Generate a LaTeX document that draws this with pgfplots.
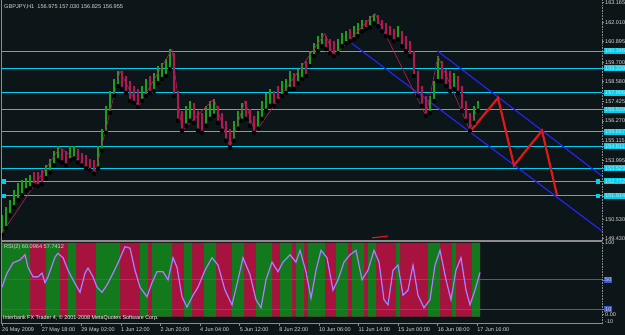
\documentclass[border=0pt]{standalone}
\usepackage{pgfplots}
\pgfplotsset{compat=1.18}
\usepackage{pgfplotstable}
\usepackage{fontspec}
\setmainfont{Liberation Sans}
\definecolor{bg}{HTML}{0C1518}
\definecolor{cyanl}{HTML}{00D0F0}
\definecolor{chan}{HTML}{2424F0}
\definecolor{proj}{HTML}{E01818}
\definecolor{upc}{HTML}{1CA01C}
\definecolor{dnc}{HTML}{B0184E}
\definecolor{zz}{HTML}{B0205A}
\definecolor{rsired}{HTML}{A8123E}
\definecolor{rsigreen}{HTML}{127A1C}
\definecolor{lvl}{HTML}{3A58D0}
\definecolor{frame}{HTML}{8C8C8C}
\definecolor{txt}{HTML}{D8D8D8}

\pgfplotstableread{
x lo hi
2 149.64 150.80
6 150.04 151.26
10 150.80 151.66
14 151.26 152.24
18 151.66 152.65
22 151.95 152.82
26 152.24 152.94
30 152.36 153.11
46 152.94 153.69
50 153.28 154.09
54 153.69 154.55
58 153.98 154.84
70 153.98 154.84
74 154.09 154.84
98 153.51 154.84
102 154.55 155.83
106 155.59 157.16
110 156.75 158.02
114 157.73 158.72
118 158.31 159.18
142 157.44 158.31
146 157.73 158.72
154 158.02 159.06
158 158.48 159.47
162 158.72 159.64
166 158.89 159.87
170 159.29 160.45
186 156.00 157.16
190 156.29 157.44
206 156.00 157.16
210 156.40 157.44
214 156.58 157.56
234 155.13 156.29
238 155.83 156.87
242 156.29 157.33
258 155.83 156.87
262 156.40 157.44
266 156.87 157.91
270 157.16 158.14
282 157.73 158.60
286 157.91 158.72
290 158.14 159.18
298 158.48 159.29
302 158.72 159.64
310 159.47 160.33
314 160.05 160.80
318 160.33 161.20
322 160.62 161.37
338 160.22 161.03
342 160.62 161.37
346 160.80 161.49
354 161.03 161.78
358 161.20 161.95
362 161.49 162.18
370 161.72 162.36
374 161.95 162.53
398 161.03 161.78
430 156.75 157.73
434 157.44 158.60
438 158.60 160.05
454 158.14 159.06
474 156.17 157.16
478 156.87 157.44
}\upbars

\pgfplotstableread{
x lo hi
34 152.53 153.28
38 152.47 153.28
42 152.59 153.40
62 153.86 154.67
66 153.69 154.55
78 153.86 154.67
82 153.69 154.44
86 153.51 154.27
90 153.40 154.09
94 153.22 153.98
122 158.14 159.18
126 157.91 158.89
130 157.44 158.60
134 157.33 158.31
138 157.10 158.14
150 157.91 158.89
174 157.73 160.22
178 156.29 158.02
182 155.71 156.87
194 156.17 157.33
198 155.71 156.87
202 155.59 156.75
218 156.17 157.16
222 155.71 156.75
226 155.13 156.29
230 154.73 155.83
246 156.40 157.44
250 156.00 156.98
254 155.59 156.58
274 157.16 158.02
278 157.44 158.31
294 158.14 159.06
306 158.89 159.76
326 160.45 161.20
330 160.22 161.03
334 160.05 160.91
350 160.91 161.61
366 161.61 162.18
378 161.78 162.47
382 161.49 162.18
386 161.20 161.95
390 161.14 161.78
394 160.91 161.61
402 160.62 161.49
406 160.33 161.20
410 160.05 160.91
414 158.89 160.33
418 157.73 159.18
422 157.16 158.31
426 156.58 157.73
442 158.60 159.76
446 158.31 159.29
450 158.02 159.18
458 157.91 158.89
462 156.87 158.31
466 156.29 157.44
470 155.71 156.75
}\dnbars

\pgfplotstableread{
x v
2 40
7 59
13 73
20 77
25 84
28 67
33 54
38 54
42 59
45 46
48 54
55 81
58 86
63 80
68 63
73 50
80 33
85 59
88 66
93 54
97 40
102 33
107 43
113 59
118 73
125 95
130 93
135 63
140 40
147 27
152 46
157 61
163 61
168 50
173 80
177 67
182 27
187 13
193 29
198 40
205 63
212 80
218 70
225 36
232 16
238 50
243 80
250 57
256 23
261 12
266 50
272 74
278 61
283 74
290 84
296 74
300 90
306 61
311 25
316 63
321 90
327 80
333 36
338 50
344 74
350 84
356 90
362 50
368 63
374 90
379 74
384 23
388 16
393 63
398 70
403 29
408 36
413 70
418 29
424 12
430 23
435 70
440 90
446 50
451 23
456 63
461 80
466 36
470 16
475 36
480 60
}\rsi

\begin{document}
\begin{tikzpicture}[x=1pt,y=1pt]
\fill[bg] (0,0) rectangle (625,335);
\useasboundingbox (0,0) rectangle (625,335);

% main price panel
\begin{axis}[at={(2pt,94pt)}, anchor=south west, scale only axis,
  width=600pt, height=239pt,
  xmin=2, xmax=602, ymin=149.29, ymax=163.2,
  axis line style={draw=none},
  xtick=\empty,
  ytick pos=right, yticklabel pos=right,
  tick align=outside, major tick length=2pt,
  tick style={draw=frame, line width=0.6pt},
  ytick={163.165,162.010,160.895,159.700,158.580,157.425,156.270,155.115,153.995,150.530,149.430},
  yticklabels={163.165,162.010,160.895,159.700,158.580,157.425,156.270,155.115,153.995,150.530,149.430},
  yticklabel style={font=\fontsize{5.5}{6}\selectfont, text=txt, anchor=west, inner sep=1pt},
  extra y ticks={160.346,159.339,157.906,156.939,155.657,154.811,153.523,152.772,151.914},
  extra y tick labels={160.346,159.339,157.906,156.939,155.657,154.811,153.523,152.772,151.914},
  extra y tick style={tick label style={fill=cyanl, text=bg, inner sep=0.9pt}},
]
\pgfplotsinvokeforeach{160.346,159.339,157.906,156.939,155.657,154.811,153.523,152.772,151.914}{
  \addplot[cyanl, line width=1pt, forget plot] coordinates {(2,#1) (602,#1)};
}
\addplot[only marks, mark=square*, mark size=1.6pt, cyanl, forget plot]
  coordinates {(4,152.772) (4,151.914) (598,152.772) (598,151.914)};
% channel
\addplot[chan, line width=1.2pt] coordinates {(345,161.09) (602,149.87)};
\addplot[chan, line width=1.2pt] coordinates {(437,160.37) (602,153.07)};
% price bars
\addplot[only marks, mark=none,
  error bars/.cd, y dir=plus, y explicit, error mark=none,
  error bar style={draw=upc, line width=1.9pt}]
  table[x=x, y=lo, y error expr=\thisrow{hi}-\thisrow{lo}] {\upbars};
\addplot[only marks, mark=none,
  error bars/.cd, y dir=plus, y explicit, error mark=none,
  error bar style={draw=dnc, line width=1.9pt}]
  table[x=x, y=lo, y error expr=\thisrow{hi}-\thisrow{lo}] {\dnbars};
% zigzag
\addplot[zz, line width=0.6pt] coordinates {
 (2,149.76) (60,154.73) (95,153.22) (120,159.18) (138,157.10) (172,160.45)
 (182,155.71) (214,157.56) (230,154.73) (245,157.44) (255,155.59) (325,161.37)
 (334,160.05) (375,162.53) (426,156.58) (438,160.05) (470,155.71) (478,157.21)};
% projection
\addplot[proj, line width=2.2pt] coordinates {
 (470,155.65) (498,157.62) (514,153.69) (542,155.71) (557,151.95)};
\addplot[proj, line width=1.2pt] coordinates {(372,149.47) (388,149.58)};
\end{axis}

% RSI panel
\begin{axis}[at={(2pt,11pt)}, anchor=south west, scale only axis,
  width=600pt, height=81pt,
  xmin=2, xmax=602, ymin=-10, ymax=100,
  axis line style={draw=none},
  xtick pos=bottom, ytick pos=right, yticklabel pos=right,
  tick align=outside, major tick length=2pt,
  tick style={draw=frame, line width=0.6pt},
  xtick={2,41.6,81.2,120.8,160.4,200,239.6,279.2,318.8,358.4,398,437.6,477.2},
  xticklabels={26 May 2009,27 May 18:00,29 May 02:00,1 Jun 12:00,2 Jun 20:00,4 Jun 04:00,5 Jun 12:00,8 Jun 22:00,10 Jun 06:00,11 Jun 14:00,15 Jun 00:00,16 Jun 08:00,17 Jun 16:00},
  xticklabel style={font=\fontsize{5.5}{6}\selectfont, text=txt, anchor=north west, inner sep=1pt, xshift=-1pt},
  ytick={100,2.5}, yticklabels={100,0.00},
  yticklabel style={font=\fontsize{5.5}{6}\selectfont, text=txt, anchor=west, inner sep=1pt},
  extra y ticks={50,10}, extra y tick labels={50,10},
  extra y tick style={tick label style={fill=lvl, text=txt, inner sep=0.9pt}},
]
\addplot[fill=rsired, draw=none] coordinates {(2,0) (2,100) (480,100) (480,0)} \closedcycle;
\addplot[const plot mark left, fill=rsigreen, draw=none] coordinates {
 (2,100) (30,0) (46,100) (60,0) (68,100) (76,0) (96,100) (120,0) (140,100) (148,0)
 (152,100) (172,0) (184,100) (192,0) (204,100) (216,0) (232,100) (244,0) (256,100) (272,0)
 (280,100) (292,0) (296,100) (304,0) (308,100) (325,0) (336,100) (348,0) (352,100) (364,0)
 (368,100) (376,0) (396,100) (400,0) (428,100) (440,0) (452,100) (456,0) (472,100) (480,100)} \closedcycle;
\addplot[lvl, line width=0.8pt] coordinates {(2,50) (602,50)};
\addplot[lvl, line width=0.8pt] coordinates {(2,10) (602,10)};
\addplot[color={rgb,255:red,230;green,70;blue,240}, line width=1.3pt] table[x=x, y=v] {\rsi};
\addplot[color={rgb,255:red,80;green,190;blue,255}, line width=0.45pt] table[x=x, y=v] {\rsi};
\end{axis}

% frame
\draw[frame, line width=1.5pt] (2,94) -- (602,94);
\draw[frame, line width=1pt] (2,11) -- (602,11);
\draw[frame, line width=0.8pt] (1.5,11) -- (1.5,335);
\draw[frame, line width=0.6pt, densely dotted] (602,11) -- (602,335);

% texts
\node[anchor=west, text=txt, font=\fontsize{5.6}{6}\selectfont, inner sep=0pt] at (4,328) {GBPJPY,H1\ \ 156.975 157.030 156.825 156.955};
\node[anchor=west, text=txt, font=\fontsize{5.6}{6}\selectfont, inner sep=0pt] at (4,88) {RSI(2) 60.0964 57.7412};
\node[anchor=west, text=white, font=\fontsize{5.4}{6}\selectfont, inner sep=0pt] at (3,17) {Interbank FX Trader 4, © 2001-2008 MetaQuotes Software Corp.};
\node[anchor=west, text=txt, font=\fontsize{5.5}{6}\selectfont, inner sep=1pt] at (604,13) {-10};
\end{tikzpicture}
\end{document}
